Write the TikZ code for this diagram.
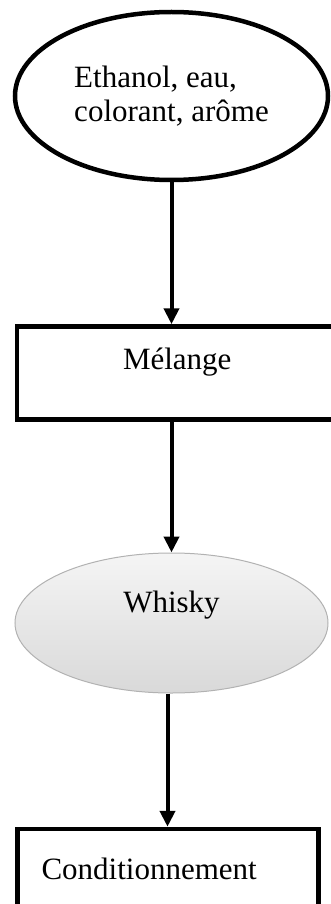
\documentclass[tikz,border=0pt]{standalone}
\usepackage{fontspec}
\setmainfont{Liberation Serif}
\usetikzlibrary{shapes.geometric,arrows.meta}
\begin{document}
\begin{tikzpicture}[x=1pt,y=-1pt,
  every node/.style={font=\fontsize{31}{34}\selectfont},
  oval/.style={ellipse,draw,line width=4.5pt,inner sep=0pt},
  boite/.style={rectangle,draw,line width=4.5pt,inner sep=0pt,text height=21pt,align=left},
  fleche/.style={-{Triangle[length=16pt,width=15pt]},line width=4pt}]
\useasboundingbox (0,0) rectangle (331,904);
\clip (0,0) rectangle (331,904);
\node[oval,minimum width=313pt,minimum height=168pt,align=left] (I) at (171.5,96){Ethanol, eau,\\colorant, arôme};
\node[boite,minimum height=93pt,text width=334pt,text depth=28pt] (M) at (184,373){\hspace*{106pt}Mélange};
\node[ellipse,draw=gray!60,line width=1pt,top color=gray!8,bottom color=gray!30,inner sep=0pt,
  minimum width=313pt,minimum height=140pt,text height=21pt,text depth=43pt] (W) at (171.5,623){Whisky};
\node[boite,minimum width=301pt,minimum height=100pt,text width=253pt,inner xsep=24pt,
  text depth=21pt] (C) at (168,879){Conditionnement};
\draw[fleche] (I.south) -- (I.south |- M.north);
\draw[fleche] (I.south |- M.south) -- (I.south |- W.north);
\draw[fleche] ([xshift=-4pt]W.south) -- ([xshift=-4pt]W.south |- C.north);
\end{tikzpicture}
\end{document}
